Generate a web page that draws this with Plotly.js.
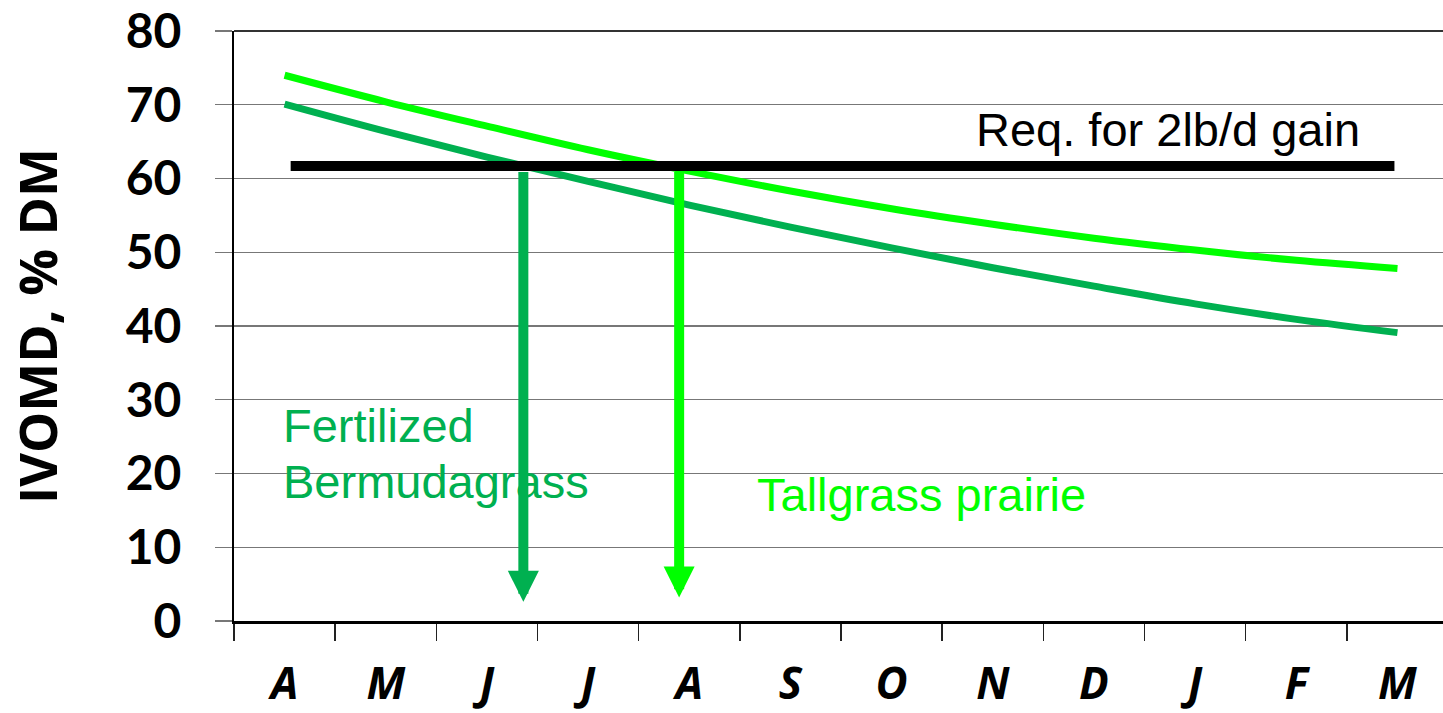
<!DOCTYPE html>
<html>
<head>
<meta charset="utf-8">
<script src="https://cdn.plot.ly/plotly-3.0.1.min.js"></script>
<style>html,body{margin:0;padding:0;background:#fff;}#chart{width:1443px;height:713px;}</style>
</head>
<body>
<div id="chart"></div>
<script>
// Month labels (April through March)
const months = ['A','M','J','J','A','S','O','N','D','J','F','M'];
// IVOMD, % DM
const tallgrass = [74.0, 70.4, 67.1, 63.9, 61.0, 58.3, 55.9, 53.8, 51.9, 50.3, 48.9, 47.8];
const bermuda   = [70.1, 66.4, 62.9, 59.6, 56.4, 53.4, 50.6, 47.9, 45.4, 43.0, 40.9, 39.1];
// Requirement for 2 lb/d gain
const reqLevel = 61.7;
// Month positions where each forage drops below the requirement
const bermudaCross = 2.36;
const tallgrassCross = 3.90;
const arrowEnd = [2.6, 3.2];
const yTicks = [0, 10, 20, 30, 40, 50, 60, 70, 80];

const monthIdx = months.map((_, i) => i);
const darkGreen = '#00B050';
const lightGreen = '#00FF00';

const traces = [
  {x: monthIdx, y: tallgrass, mode: 'lines', line: {color: lightGreen, width: 7, shape: 'spline'}, hoverinfo: 'skip'},
  {x: monthIdx, y: bermuda, mode: 'lines', line: {color: darkGreen, width: 7, shape: 'spline'}, hoverinfo: 'skip'},
  {x: [monthIdx[0] + 0.06, monthIdx[monthIdx.length - 1] - 0.03], y: [reqLevel, reqLevel], mode: 'lines', line: {color: '#000', width: 10}, hoverinfo: 'skip'}
];

const txtFont = (c) => ({family: 'Liberation Sans, Arial, sans-serif', size: 47, color: c});

const layout = {
  width: 1443, height: 713,
  margin: {l: 234, r: 0, t: 31, b: 92},
  paper_bgcolor: '#fff', plot_bgcolor: '#fff',
  showlegend: false,
  xaxis: {
    range: [-0.5, 11.45],
    tickmode: 'array', tickvals: monthIdx, ticktext: months,
    ticks: '', showgrid: false, zeroline: false,
    showline: true, linecolor: '#000', linewidth: 3,
    ticklabelstandoff: 22, ticklabeloverflow: 'allow',
    tickfont: {family: 'Open Sans, sans-serif', size: 44, weight: 'bold', style: 'italic', color: '#000'},
    minor: {tickmode: 'linear', tick0: -0.5, dtick: 1, ticks: 'outside', ticklen: 17, tickwidth: 1.5, tickcolor: '#222', showgrid: false}
  },
  yaxis: {
    range: [0, 80], tickmode: 'array', tickvals: yTicks,
    showgrid: true, gridcolor: '#777', gridwidth: 1.2,
    ticks: 'outside', ticklen: 17, tickcolor: '#777', tickwidth: 1.2,
    showline: true, linecolor: '#000', linewidth: 2, zeroline: false,
    ticklabelstandoff: 24, ticklabeloverflow: 'allow',
    tickfont: {family: 'Lato, sans-serif', size: 48, weight: 'bold', color: '#000'},
    title: {text: 'IVOMD, % DM', standoff: 52, font: {family: 'Open Sans, sans-serif', size: 52, weight: 'bold', color: '#000'}}
  },
  shapes: [
    {type: 'line', xref: 'paper', yref: 'paper', x0: 0, x1: 1, y0: 1, y1: 1, line: {color: '#333', width: 2}}
  ],
  annotations: [
    {x: 6.81, y: 66.7, xref: 'x', yref: 'y', text: 'Req. for 2lb/d gain', showarrow: false, xanchor: 'left', yanchor: 'middle', font: txtFont('#000')},
    {x: -0.04, y: 26.5, xref: 'x', yref: 'y', text: 'Fertilized', showarrow: false, xanchor: 'left', yanchor: 'middle', font: txtFont(darkGreen)},
    {x: -0.04, y: 18.9, xref: 'x', yref: 'y', text: 'Bermudagrass', showarrow: false, xanchor: 'left', yanchor: 'middle', font: txtFont(darkGreen)},
    {x: 4.65, y: 17.1, xref: 'x', yref: 'y', text: 'Tallgrass prairie', showarrow: false, xanchor: 'left', yanchor: 'middle', font: txtFont(lightGreen)},
    {x: bermudaCross, y: arrowEnd[0], ax: bermudaCross, ay: reqLevel - 0.6, xref: 'x', yref: 'y', axref: 'x', ayref: 'y', text: '', showarrow: true, arrowhead: 2, arrowsize: 0.62, arrowwidth: 10, arrowcolor: darkGreen, standoff: 0},
    {x: tallgrassCross, y: arrowEnd[1], ax: tallgrassCross, ay: reqLevel - 0.6, xref: 'x', yref: 'y', axref: 'x', ayref: 'y', text: '', showarrow: true, arrowhead: 2, arrowsize: 0.62, arrowwidth: 10, arrowcolor: lightGreen, standoff: 0}
  ]
};

Plotly.newPlot('chart', traces, layout, {staticPlot: true, displayModeBar: false});
</script>
</body>
</html>
